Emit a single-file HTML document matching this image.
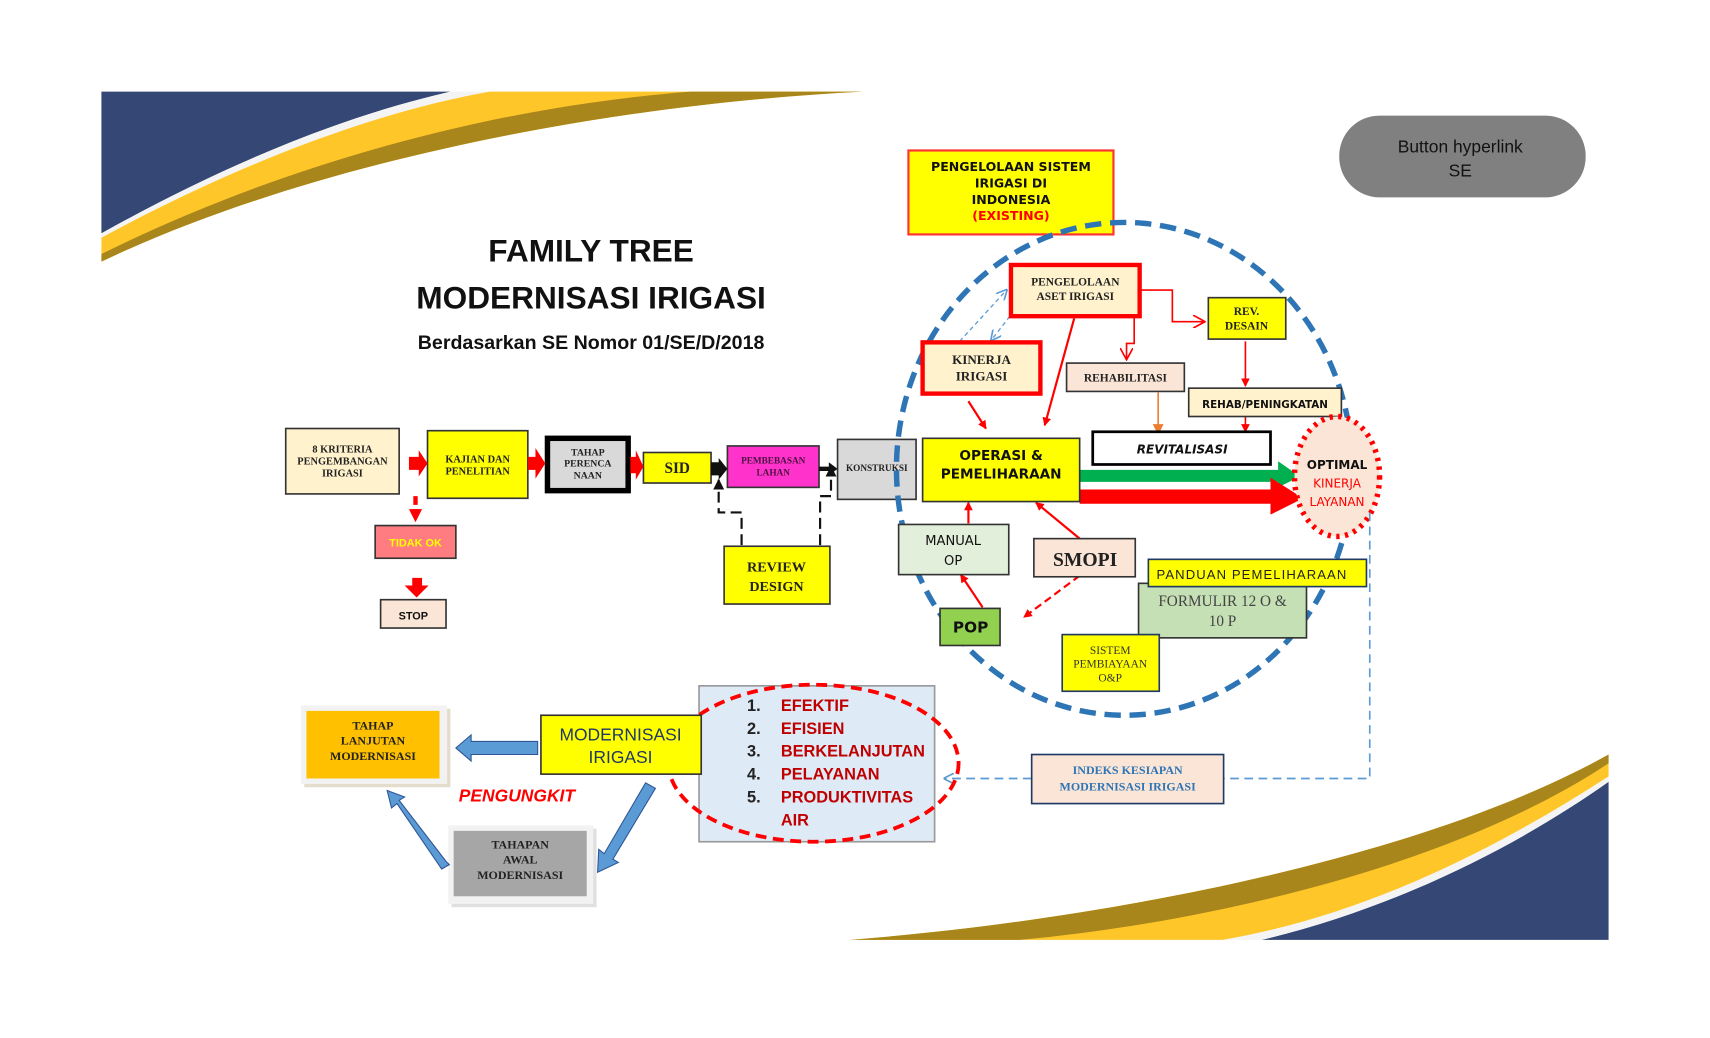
<!DOCTYPE html>
<html><head><meta charset="utf-8"><style>
html,body{margin:0;padding:0;background:#fff;}
svg{display:block}
.s{font-family:"Liberation Serif",serif;font-weight:bold;fill:#222;text-anchor:middle}
.v{font-family:"DejaVu Sans","Liberation Sans",sans-serif;font-weight:bold;fill:#111;text-anchor:middle}
.c{font-family:"Liberation Sans",sans-serif;text-anchor:middle}
</style></head><body>
<svg width="1710" height="1038" viewBox="0 0 1568 952" preserveAspectRatio="none" xmlns="http://www.w3.org/2000/svg">
<defs>
<marker id="ar" markerWidth="8" markerHeight="8" refX="7" refY="4" orient="auto" markerUnits="userSpaceOnUse"><path d="M0,0 L8,4 L0,8 Z" fill="#f00"/></marker>
<marker id="ao" markerWidth="10" markerHeight="10" refX="9" refY="5" orient="auto" markerUnits="userSpaceOnUse"><path d="M0,0 L10,5 L0,10 Z" fill="#ED7D31"/></marker>
<marker id="ab" markerWidth="10" markerHeight="10" refX="9" refY="5" orient="auto" markerUnits="userSpaceOnUse"><path d="M0,0 L10,5 L0,10 Z" fill="#111"/></marker>
<marker id="ablue" markerWidth="10" markerHeight="10" refX="9" refY="5" orient="auto" markerUnits="userSpaceOnUse"><path d="M0,0 L10,5 L0,10" fill="none" stroke="#5B9BD5" stroke-width="1.5"/></marker>
<marker id="aro" markerWidth="12" markerHeight="12" refX="11" refY="6" orient="auto" markerUnits="userSpaceOnUse"><path d="M0,0 L11,6 L0,12" fill="none" stroke="#f00" stroke-width="1.5"/></marker>
</defs>
<!-- decorative swooshes top-left -->
<path d="M93,84 H413 C300,110 190,160 93,214 Z" fill="#344775"/>
<path d="M449,84 H413 C300,110 190,160 93,214 V218 C200,160 330,105 449,84 Z" fill="#f4f4f4"/>
<path d="M449,84 H791 C520,98 260,160 93,240 V218 C200,160 330,105 449,84 Z" fill="#FFC629"/>
<path d="M633,84 H791 C520,98 260,160 93,240 V233 C240,160 430,100 633,84 Z" fill="#A8861C"/>
<!-- bottom-right -->
<path d="M1475,862 H1157 C1290,830 1400,770 1475,717 Z" fill="#344775"/>
<path d="M1121,862 H1157 C1290,830 1400,770 1475,717 V712 C1370,780 1250,840 1121,862 Z" fill="#f4f4f4"/>
<path d="M779,862 C1000,845 1300,790 1475,692 V712 C1370,780 1250,840 1121,862 Z" fill="#FFC629"/>
<path d="M779,862 C1000,845 1300,790 1475,692 V700 C1340,790 1120,845 935,862 Z" fill="#A8861C"/>
<!-- title -->
<text x="542" y="240" class="c" style="font-weight:bold;font-size:29px" fill="#111">FAMILY TREE</text>
<text x="542" y="283" class="c" style="font-weight:bold;font-size:29px" fill="#111">MODERNISASI IRIGASI</text>
<text x="542" y="320" class="c" style="font-weight:bold;font-size:18px" fill="#111">Berdasarkan SE Nomor 01/SE/D/2018</text>
<!-- button -->
<rect x="1228" y="106" width="226" height="75" rx="37" fill="#808080"/>
<text x="1339" y="140" class="c" style="font-size:16px" fill="#111">Button hyperlink</text>
<text x="1339" y="162" class="c" style="font-size:16px" fill="#111">SE</text>

<!-- left flow -->
<rect x="262" y="393" width="104" height="60" fill="#FFF2CC" stroke="#333" stroke-width="1.5"/>
<text class="s" style="font-size:9.5px"><tspan x="314" y="415">8 KRITERIA</tspan><tspan x="314" y="426">PENGEMBANGAN</tspan><tspan x="314" y="437">IRIGASI</tspan></text>
<rect x="392" y="395" width="92" height="62" fill="#FFFF00" stroke="#333" stroke-width="1.5"/>
<text class="s" style="font-size:9.5px"><tspan x="438" y="424">KAJIAN DAN</tspan><tspan x="438" y="435">PENELITIAN</tspan></text>
<rect x="502" y="402" width="74" height="48" fill="#D9D9D9" stroke="#000" stroke-width="5"/>
<text class="s" style="font-size:9px"><tspan x="539" y="418">TAHAP</tspan><tspan x="539" y="428">PERENCA</tspan><tspan x="539" y="439">NAAN</tspan></text>
<rect x="590" y="415" width="62" height="28" fill="#FFFF00" stroke="#333" stroke-width="1.5"/>
<text x="621" y="434" class="s" style="font-size:14px">SID</text>
<rect x="667" y="409" width="84" height="38" fill="#FF33CC" stroke="#333" stroke-width="1.5"/>
<text class="s" style="font-size:8.5px;fill:#4a1040"><tspan x="709" y="425">PEMBEBASAN</tspan><tspan x="709" y="436">LAHAN</tspan></text>
<rect x="768" y="403" width="72" height="55" fill="#D9D9D9" stroke="#333" stroke-width="1.5"/>
<text x="804" y="432" class="s" style="font-size:8.5px">KONSTRUKSI</text>
<path d="M375,419 H384 V413 L392,425 L384,437 V431 H375 Z" fill="#f00"/>
<path d="M484,419 H491 V411 L500,425 L491,439 V431 H484 Z" fill="#f00"/>
<path d="M578,419 H583 V413 L590,428 L583,440 V434 H578 Z" fill="#f00"/>
<path d="M652,424 H659 V420 L667,430 L659,440 V436 H652 Z" fill="#111"/>
<path d="M751,428 H760 V424 L768,430 L760,436 V432 H751 Z" fill="#111"/>
<line x1="381" y1="455" x2="381" y2="470" stroke="#f00" stroke-width="4" stroke-dasharray="8 4"/>
<path d="M375,467 L387,467 L381,479 Z" fill="#f00"/>
<rect x="344" y="482" width="74" height="30" fill="#FF7C80" stroke="#333" stroke-width="1.5"/>
<text x="381" y="501" class="c" style="font-size:10px;font-weight:bold" fill="#FFFF00">TIDAK OK</text>
<path d="M378,530 H387 V537 H393 L382,548 L371,537 H378 Z" fill="#f00"/>
<rect x="349" y="550" width="60" height="26" fill="#FBE5D6" stroke="#333" stroke-width="1.5"/>
<text x="379" y="568" class="c" style="font-size:10px;font-weight:bold" fill="#111">STOP</text>
<path d="M680,500 V470 H659 V440" fill="none" stroke="#111" stroke-width="2" stroke-dasharray="10 5" marker-end="url(#ab)"/>
<path d="M752,500 V455 H762 V428" fill="none" stroke="#111" stroke-width="2" stroke-dasharray="10 5" marker-end="url(#ab)"/>
<rect x="664" y="501" width="97" height="53" fill="#FFFF00" stroke="#333" stroke-width="1.5"/>
<text class="s" style="font-size:13px"><tspan x="712" y="524">REVIEW</tspan><tspan x="712" y="542">DESIGN</tspan></text>

<!-- right cluster -->
<rect x="833" y="138" width="188" height="77" fill="#FFFF00" stroke="#f33" stroke-width="2"/>
<text class="v" style="font-size:11.5px"><tspan x="927" y="157">PENGELOLAAN SISTEM</tspan><tspan x="927" y="172">IRIGASI DI</tspan><tspan x="927" y="187">INDONESIA</tspan><tspan x="927" y="202" fill="#f00">(EXISTING)</tspan></text>

<path d="M1045,266 H1075 V295 H1105" fill="none" stroke="#f00" stroke-width="1.5" marker-end="url(#aro)"/>
<path d="M1040,290 V315 H1033 V330" fill="none" stroke="#f00" stroke-width="1.5" marker-end="url(#aro)"/>
<line x1="1142" y1="313" x2="1142" y2="354" stroke="#f00" stroke-width="1.5" marker-end="url(#ar)"/>
<line x1="1142" y1="382" x2="1142" y2="396" stroke="#f00" stroke-width="1.5" marker-end="url(#ar)"/>
<line x1="1062" y1="360" x2="1062" y2="398" stroke="#ED7D31" stroke-width="1.5" marker-end="url(#ao)"/>
<line x1="985" y1="292" x2="958" y2="390" stroke="#f00" stroke-width="2" marker-end="url(#ar)"/>
<line x1="888" y1="368" x2="904" y2="393" stroke="#f00" stroke-width="2" marker-end="url(#ar)"/>
<line x1="880" y1="313" x2="923" y2="266" stroke="#5B9BD5" stroke-width="1.2" stroke-dasharray="4 3" marker-end="url(#ablue)"/>
<line x1="926" y1="290" x2="909" y2="312" stroke="#5B9BD5" stroke-width="1.2" stroke-dasharray="4 3" marker-end="url(#ablue)"/>
<line x1="888" y1="480" x2="888" y2="461" stroke="#f00" stroke-width="2" marker-end="url(#ar)"/>
<line x1="990" y1="494" x2="950" y2="461" stroke="#f00" stroke-width="2" marker-end="url(#ar)"/>
<line x1="901" y1="557" x2="881" y2="527" stroke="#f00" stroke-width="2" marker-end="url(#ar)"/>
<line x1="990" y1="528" x2="939" y2="566" stroke="#f00" stroke-width="2" stroke-dasharray="7 4" marker-end="url(#ar)"/>

<ellipse cx="1031" cy="430" rx="209" ry="226" fill="none" stroke="#2E75B6" stroke-width="5" stroke-dasharray="15 8"/>

<rect x="927" y="243" width="118" height="47" fill="#FFF2CC" stroke="#f00" stroke-width="4"/>
<text class="s" style="font-size:10.5px"><tspan x="986" y="262">PENGELOLAAN</tspan><tspan x="986" y="275">ASET IRIGASI</tspan></text>
<rect x="846" y="314" width="108" height="47" fill="#FFF2CC" stroke="#f00" stroke-width="4"/>
<text class="s" style="font-size:12px"><tspan x="900" y="334">KINERJA</tspan><tspan x="900" y="349">IRIGASI</tspan></text>
<rect x="1108" y="273" width="71" height="38" fill="#FFFF00" stroke="#333" stroke-width="1.5"/>
<text class="s" style="font-size:10.5px"><tspan x="1143" y="289">REV.</tspan><tspan x="1143" y="302">DESAIN</tspan></text>
<rect x="978" y="333" width="108" height="26" fill="#FBE5D6" stroke="#333" stroke-width="1.5"/>
<text x="1032" y="350" class="s" style="font-size:10.5px">REHABILITASI</text>
<rect x="1090" y="356" width="140" height="26" fill="#FFF2CC" stroke="#333" stroke-width="1.5"/>
<text x="1160" y="374" class="v" style="font-size:9.5px">REHAB/PENINGKATAN</text>
<rect x="1002" y="396" width="163" height="30" fill="#fff" stroke="#000" stroke-width="2.5"/>
<text x="1084" y="416" class="v" style="font-size:11px;font-style:italic">REVITALISASI</text>

<path d="M990,431 H1172 V423 L1192,437 L1172,447 V442 H990 Z" fill="#00B050"/>
<path d="M990,449 H1165 V438 L1195,457 L1165,472 V462 H990 Z" fill="#f00"/>
<rect x="846" y="402" width="144" height="58" fill="#FFFF00" stroke="#333" stroke-width="1.5"/>
<text class="v" style="font-size:12.5px"><tspan x="918" y="422">OPERASI &amp;</tspan><tspan x="918" y="439">PEMELIHARAAN</tspan></text>
<ellipse cx="1226" cy="437" rx="39" ry="55" fill="#FBE5D6" stroke="#f00" stroke-width="5" stroke-dasharray="3 5"/>
<text class="v" style="font-size:11px"><tspan x="1226" y="430">OPTIMAL</tspan><tspan x="1226" y="447" fill="#f00" style="font-weight:normal">KINERJA</tspan><tspan x="1226" y="464" fill="#f00" style="font-weight:normal">LAYANAN</tspan></text>

<rect x="824" y="481" width="101" height="46" fill="#E2EFDA" stroke="#333" stroke-width="1.5"/>
<text class="v" style="font-size:12px;font-weight:normal"><tspan x="874" y="500">MANUAL</tspan><tspan x="874" y="518">OP</tspan></text>
<rect x="948" y="494" width="93" height="35" fill="#FBE5D6" stroke="#333" stroke-width="1.5"/>
<text x="995" y="519" class="s" style="font-size:18px">SMOPI</text>
<rect x="1044" y="535" width="154" height="50" fill="#C5E0B4" stroke="#333" stroke-width="1.5"/>
<text class="c" style="font-family:'Liberation Serif',serif;font-size:14px" fill="#444"><tspan x="1121" y="556">FORMULIR 12 O &amp;</tspan><tspan x="1121" y="574">10 P</tspan></text>
<rect x="1053" y="513" width="200" height="25" fill="#FFFF00" stroke="#1F3864" stroke-width="1.5"/>
<text x="1148" y="531" class="c" style="font-size:12px;letter-spacing:1px" fill="#222">PANDUAN PEMELIHARAAN</text>
<rect x="862" y="558" width="55" height="34" fill="#92D050" stroke="#333" stroke-width="1.5"/>
<text x="890" y="580" class="v" style="font-size:14px">POP</text>
<rect x="974" y="582" width="89" height="52" fill="#FFFF00" stroke="#1F3864" stroke-width="1.5"/>
<text class="c" style="font-family:'Liberation Serif',serif;font-size:10.5px" fill="#333"><tspan x="1018" y="600">SISTEM</tspan><tspan x="1018" y="612">PEMBIAYAAN</tspan><tspan x="1018" y="625">O&amp;P</tspan></text>

<path d="M1256,470 V714 H1122" fill="none" stroke="#5B9BD5" stroke-width="1.5" stroke-dasharray="8 5"/>
<path d="M946,714 H866" fill="none" stroke="#5B9BD5" stroke-width="1.5" stroke-dasharray="8 5" marker-end="url(#ablue)"/>
<rect x="946" y="692" width="176" height="45" fill="#FBE5D6" stroke="#1F3864" stroke-width="1.5"/>
<text class="s" style="font-size:11px;fill:#2E75B6"><tspan x="1034" y="710">INDEKS KESIAPAN</tspan><tspan x="1034" y="725">MODERNISASI IRIGASI</tspan></text>

<rect x="641" y="629" width="216" height="143" fill="#DEEBF7" stroke="#999" stroke-width="1.5"/>
<ellipse cx="746" cy="700" rx="133" ry="72" fill="none" stroke="#f00" stroke-width="3.5" stroke-dasharray="10 6"/>
<g class="c" style="font-size:15px;font-weight:bold;text-anchor:start">
<text x="685" y="652" fill="#222">1.</text><text x="716" y="652" fill="#C00000">EFEKTIF</text>
<text x="685" y="673" fill="#222">2.</text><text x="716" y="673" fill="#C00000">EFISIEN</text>
<text x="685" y="694" fill="#222">3.</text><text x="716" y="694" fill="#C00000">BERKELANJUTAN</text>
<text x="685" y="715" fill="#222">4.</text><text x="716" y="715" fill="#C00000">PELAYANAN</text>
<text x="685" y="736" fill="#222">5.</text><text x="716" y="736" fill="#C00000">PRODUKTIVITAS</text>
<text x="716" y="757" fill="#C00000">AIR</text>
</g>
<rect x="496" y="656" width="147" height="54" fill="#FFFF00" stroke="#333" stroke-width="1.5"/>
<text class="c" style="font-size:16px" fill="#1F3864"><tspan x="569" y="679">MODERNISASI</tspan><tspan x="569" y="700">IRIGASI</tspan></text>

<rect x="279" y="650" width="134" height="72" fill="#C9B99A" opacity="0.5"/>
<rect x="276" y="647" width="134" height="72" fill="#f2f2f2"/>
<rect x="281" y="652" width="122" height="62" fill="#FFC000"/>
<text class="s" style="font-size:11px"><tspan x="342" y="669">TAHAP</tspan><tspan x="342" y="683">LANJUTAN</tspan><tspan x="342" y="697">MODERNISASI</tspan></text>
<rect x="414" y="760" width="133" height="72" fill="#ccc" opacity="0.6"/>
<rect x="411" y="757" width="133" height="72" fill="#f2f2f2"/>
<rect x="416" y="762" width="122" height="60" fill="#A6A6A6"/>
<text class="s" style="font-size:11px"><tspan x="477" y="778">TAHAPAN</tspan><tspan x="477" y="792">AWAL</tspan><tspan x="477" y="806">MODERNISASI</tspan></text>
<text x="474" y="735" class="c" style="font-size:16px;font-weight:bold;font-style:italic" fill="#f00">PENGUNGKIT</text>
<g fill="#5B9BD5" stroke="#2F5597" stroke-width="1">
<path d="M493,680 H432 V674 L418,686 L432,698 V692 H493 Z"/>
<path d="M592,718 L601,723 L562,788 L567,791 L548,800 L549,779 L554,783 Z"/>
<path d="M412,793 L405,797 L364,737 L359,741 L355,725 L371,731 L366,734 L409,790 Z"/>
</g>
</svg>
</body></html>
